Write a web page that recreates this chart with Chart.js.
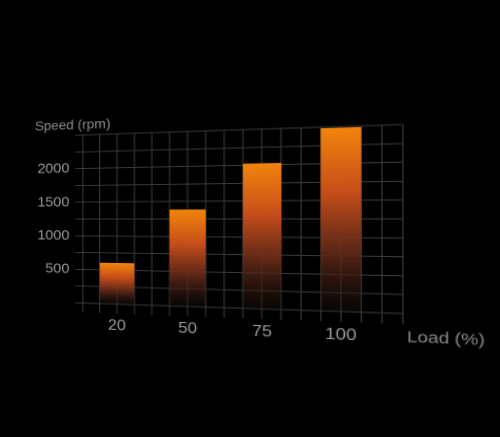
<!DOCTYPE html>
<html>
<head>
<meta charset="utf-8">
<title>Speed vs Load</title>
<script src="https://cdn.jsdelivr.net/npm/chart.js@4.4.1/dist/chart.umd.min.js"></script>
<style>
    html, body {
        margin: 0;
        padding: 0;
        background: #000;
        overflow: hidden;
    }
    #wrap {
        position: absolute;
        left: 0;
        top: 0;
        width: 500px;
        height: 437px;
        /* slight perspective, right side closer */
        transform-origin: 233.6px 219px;
        transform: matrix3d(1.1, 0, 0, -0.000406, 0, 1, 0, 0, 0, 0, 1, 0, 0, 0, 0, 1);
    }
</style>
</head>
<body>
<div id="wrap">
    <canvas id="speedChart" width="500" height="437"></canvas>
</div>
<script>
// Veriler
const loadLabels = ['20', '50', '75', '100'];
const speedValues = [600, 1380, 2020, 2480];
const speedTicks = [500, 1000, 1500, 2000];
const yTitle = 'Speed (rpm)';
const xTitle = 'Load (%)';

const gridColor = '#3a3a3a';
const tickColor = '#9a9a9a';

Chart.defaults.font.family = "'Liberation Sans', Arial, sans-serif";

// Her çubuk için üstten alta gradyan
function barGradient(context) {
    const chart = context.chart;
    const yScale = chart.scales.y;
    if (!chart.chartArea || !yScale || context.raw === undefined) {
        return 'rgba(230, 110, 20, 1)';
    }
    const top = yScale.getPixelForValue(context.raw.y);
    const base = yScale.getPixelForValue(0);
    const g = chart.ctx.createLinearGradient(0, top, 0, base);
    g.addColorStop(0, 'rgba(242, 132, 12, 1)');
    g.addColorStop(0.35, 'rgba(198, 78, 26, 1)');
    g.addColorStop(0.68, 'rgba(100, 42, 24, 0.9)');
    g.addColorStop(1, 'rgba(25, 18, 14, 0.35)');
    return g;
}

// Eksen başlıkları
const axisTitles = {
    id: 'axisTitles',
    afterDraw(chart) {
        const ctx = chart.ctx;
        const area = chart.chartArea;
        ctx.save();
        ctx.textBaseline = 'alphabetic';
        ctx.textAlign = 'left';
        ctx.fillStyle = '#8c8c8c';
        ctx.font = "14px 'Liberation Sans', Arial, sans-serif";
        ctx.fillText(yTitle, area.left - 50, area.top - 6.5);
        ctx.font = "15px 'Liberation Sans', Arial, sans-serif";
        ctx.fillText(xTitle, area.right + 3.3, area.bottom + 26.3);
        ctx.restore();
    }
};

const ctx = document.getElementById('speedChart').getContext('2d');
new Chart(ctx, {
    type: 'bar',
    data: {
        datasets: [{
            label: yTitle,
            data: loadLabels.map((l, i) => ({ x: i, y: speedValues[i] })),
            backgroundColor: barGradient,
            borderWidth: 0,
            barThickness: 33.5
        }]
    },
    options: {
        responsive: false,
        animation: false,
        devicePixelRatio: 2,
        layout: {
            padding: { left: 38.7, right: 121.5, top: 130, bottom: 89 }
        },
        plugins: {
            legend: { display: false },
            tooltip: { enabled: false }
        },
        scales: {
            x: {
                type: 'linear',
                min: -0.5,
                max: 3.75,
                offset: false,
                afterFit: (scale) => { scale.height = 40; },
                afterBuildTicks: (scale) => {
                    const ticks = [];
                    for (let k = 0; k <= 17; k++) ticks.push({ value: -0.5 + k * 0.25 });
                    scale.ticks = ticks;
                },
                grid: {
                    offset: false,
                    color: gridColor,
                    lineWidth: 1,
                    tickLength: 10
                },
                border: { color: gridColor },
                ticks: {
                    color: tickColor,
                    padding: 3,
                    maxRotation: 0,
                    autoSkip: false,
                    font: { size: 16 },
                    callback: (v) => Number.isInteger(v) && loadLabels[v] !== undefined ? loadLabels[v] : ''
                }
            },
            y: {
                min: 0,
                max: 2500,
                afterFit: (scale) => { scale.width = 50; },
                grid: {
                    color: gridColor,
                    lineWidth: 1,
                    tickLength: 8
                },
                border: { color: gridColor },
                ticks: {
                    stepSize: 250,
                    color: tickColor,
                    padding: 6,
                    autoSkip: false,
                    font: { size: 15 },
                    callback: (v) => speedTicks.includes(v) ? String(v) : ''
                }
            }
        }
    },
    plugins: [axisTitles]
});
</script>
</body>
</html>
